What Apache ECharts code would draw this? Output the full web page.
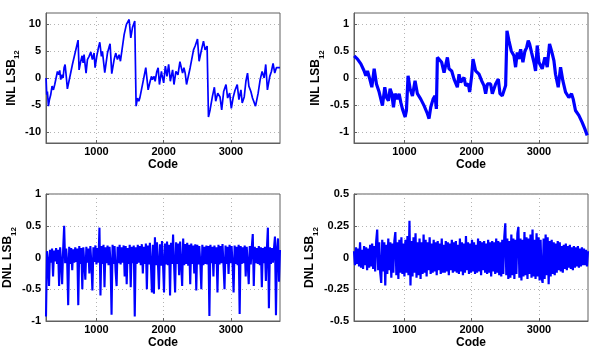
<!DOCTYPE html>
<html>
<head>
<meta charset="utf-8">
<script src="https://cdn.jsdelivr.net/npm/echarts@6/dist/echarts.min.js"></script>
<style>
html, body { margin: 0; padding: 0; background: #fff; }
#chart { width: 610px; height: 350px; }
</style>
</head>
<body>
<div id="chart"></div>
<script>
// tick values
var codeTicks = [1000, 2000, 3000];
var inlATicks = [-10, -5, 0, 5, 10];
var inlBTicks = [-1, -0.5, 0, 0.5, 1];

// INL, top left
var inlACodes = [251, 261, 271, 286, 301, 320, 340, 360, 380, 400, 420, 440, 454, 469, 489, 504, 519, 534, 549, 568,
  643, 648, 663, 727, 742, 767, 787, 802, 816, 831, 846, 866, 891, 916, 940, 965, 980, 1005, 1030, 1050,
  1074, 1089, 1124, 1164, 1188, 1203, 1228, 1263, 1288, 1312, 1337, 1357, 1412, 1446, 1461, 1486, 1511, 1536, 1570, 1590,
  1610, 1630, 1645, 1709, 1734, 1769, 1799, 1818, 1833, 1858, 1873, 1898, 1918, 1937, 1967, 1975, 2000, 2025, 2049, 2074,
  2099, 2133, 2153, 2182, 2212, 2242, 2261, 2281, 2301, 2320, 2340, 2394, 2444, 2468, 2503, 2527, 2557, 2592, 2616, 2646,
  2666, 2690, 2725, 2754, 2774, 2804, 2838, 2863, 2892, 2927, 2951, 2981, 3006, 3035, 3060, 3094, 3119, 3149, 3168, 3198,
  3223, 3247, 3267, 3297, 3321, 3341, 3366, 3405, 3435, 3464, 3494, 3518, 3543, 3578, 3602, 3627, 3652, 3676, 3701, 3730];
var inlAValues = [0, -3.1, -2.5, -5.2, -4.0, -3.1, -1.5, -2.2, -1.2, 0, 1.2, 0.6, 1.4, -0.3, 0.6, 0, 1.9, 2.5, 0.6, -2.0,
  2.5, 2.8, 2.3, 7.0, 1.5, 3.1, 4.1, 2.8, 4.3, 2.5, 0.9, 3.4, 4.0, 4.8, 3.4, 4.6, 1.9, 4.0, 5.6, 6.6,
  4.0, 4.9, 1.0, 4.6, 5.7, 6.3, 0.8, 3.4, 4.6, 3.4, 4.3, 3.1, 8.0, 9.9, 10.2, 10.8, 7.4, 9.3, 10.5, -5.2,
  -3.7, -4.3, -3.7, 0.3, 1.9, -2.2, -0.6, 0.3, -0.3, 0.3, -0.6, 1.2, 1.9, -1.2, 1.2, 0.6, -0.9, 2.2, 0.3, 2.5,
  -0.6, 1.5, -1.2, 1.2, 0.6, 3.0, 2.8, 0.9, 1.9, 0.9, -1.2, 1.9, 5.2, 5.9, 7.2, 3.1, 4.9, 6.8, 5.2, 5.9,
  -7.2, -5.9, -3.4, -1.7, -4.3, -2.8, -3.5, -5.9, -2.5, -1.2, -3.7, -2.8, -5.6, -3.5, -2.3, -1.2, -4.0, -2.2, -4.6, -3.5,
  -0.6, 0.9, -1.5, -2.5, -3.7, -3.4, -5.2, -2.8, -0.3, 1.2, 0, 2.5, -2.2, 0.3, 1.2, 2.7, 0.9, 1.9, 1.9, 1.9];

// INL, top right
var inlBCodes = [253, 302, 327, 352, 401, 426, 451, 485, 515, 550, 584, 624, 673, 708, 733, 762, 787, 812, 837, 861,
  896, 921, 946, 970, 1010, 1030, 1054, 1084, 1119, 1158, 1193, 1243, 1292, 1342, 1366, 1391, 1426, 1455, 1475, 1490,
  1515, 1554, 1589, 1639, 1663, 1703, 1738, 1787, 1812, 1837, 1886, 1911, 1950, 1970, 2000, 2020, 2059, 2109, 2148, 2183,
  2208, 2233, 2282, 2307, 2356, 2396, 2421, 2455, 2480, 2505, 2525, 2554, 2589, 2629, 2653, 2678, 2703, 2728, 2762, 2792,
  2817, 2841, 2861, 2891, 2926, 2950, 2975, 3000, 3049, 3089, 3124, 3158, 3188, 3223, 3247, 3287, 3322, 3356, 3396, 3445,
  3485, 3510, 3544, 3594, 3643, 3683, 3718];
var inlBValues = [0.41, 0.35, 0.38, 0.26, 0.13, 0.04, 0.13, -0.02, -0.17, 0.17, -0.11, -0.26, -0.51, -0.17, -0.36, -0.42, -0.2, -0.29, -0.54, -0.29,
  -0.39, -0.29, -0.45, -0.57, -0.72, -0.6, 0.04, -0.2, -0.33, -0.05, -0.29, -0.39, -0.51, -0.66, -0.75, -0.54, -0.39, -0.33, -0.57, 0.38,
  0.41, 0.29, 0.1, 0.38, 0.17, 0.13, -0.02, -0.17, 0.07, -0.08, 0.01, -0.14, -0.11, -0.26, 0.04, 0.35, 0.13, 0.07, -0.05, -0.14,
  -0.29, -0.11, -0.11, -0.29, -0.11, -0.02, -0.29, -0.33, -0.36, -0.14, 0.87, 0.69, 0.5, 0.41, 0.2, 0.47, 0.35, 0.53, 0.29, 0.5,
  0.56, 0.69, 0.63, 0.47, 0.29, 0.13, 0.6, 0.29, 0.17, 0.38, 0.2, 0.63, 0.5, 0.32, 0.07, -0.17, 0.2, -0.05, -0.26, -0.36,
  -0.29, -0.39, -0.6, -0.69, -0.82, -0.94, -1.06];

// DNL, one value every dnlStep codes from dnlStart
var dnlStart = 250;
var dnlStep = 15;
var dnlAValues = [-0.93, 0.1, -0.05, -0.45, 0.12, -0.08, 0.14, -0.3, 0.11, -0.06,
  0.15, -0.1, 0.12, -0.45, 0.16, -0.07, -0.42, 0.13, 0.5, -0.09,
  0.14, -0.06, -0.75, 0.17, -0.1, 0.15, -0.2, 0.13, -0.08, 0.16,
  -0.07, 0.14, -0.75, 0.18, -0.1, 0.15, -0.5, 0.16, -0.09, -0.35,
  0.17, -0.08, 0.14, -0.25, 0.18, -0.1, -0.52, 0.16, -0.07, 0.19,
  -0.11, 0.15, -0.08, 0.47, -0.6, 0.18, -0.1, 0.2, -0.47, 0.16,
  -0.09, 0.19, -0.12, 0.17, -0.08, -0.9, 0.2, -0.1, 0.18, -0.22,
  -0.45, 0.17, -0.09, 0.2, -0.11, 0.16, -0.08, 0.19, -0.3, 0.18,
  -0.42, 0.15, -0.1, 0.2, -0.47, 0.17, -0.09, 0.19, -0.93, 0.16,
  -0.1, 0.2, -0.08, 0.18, -0.12, 0.21, -0.25, 0.17, -0.1, 0.22,
  -0.5, 0.19, -0.11, 0.23, -0.09, -0.55, 0.2, -0.57, 0.32, -0.12,
  0.24, -0.1, -0.5, 0.21, -0.13, 0.26, -0.09, -0.55, 0.22, -0.11,
  0.25, -0.12, 0.2, -0.6, 0.23, -0.1, 0.36, -0.13, -0.55, 0.24,
  -0.1, 0.22, -0.28, 0.25, -0.11, -0.45, 0.3, -0.12, 0.21, -0.1,
  0.23, -0.13, 0.2, -0.42, 0.22, -0.1, 0.19, -0.25, 0.21, -0.52,
  0.2, -0.11, 0.18, -0.09, -0.5, 0.2, -0.12, 0.17, -0.1, 0.19,
  -0.11, 0.18, -0.92, 0.2, -0.09, 0.17, -0.3, 0.19, -0.1, 0.16,
  -0.55, 0.2, -0.11, 0.18, -0.09, 0.21, -0.12, -0.5, 0.19, -0.1,
  0.17, -0.26, 0.2, -0.09, 0.18, -0.11, -0.55, 0.19, -0.1, 0.17,
  -0.12, 0.2, -0.89, 0.18, -0.1, 0.16, -0.09, 0.19, -0.3, 0.17,
  -0.1, -0.42, 0.18, -0.11, 0.16, 0.37, -0.45, 0.17, -0.09, 0.15,
  -0.1, 0.18, -0.12, 0.16, -0.47, 0.15, -0.09, 0.17, -0.37, 0.14,
  0.47, -0.8, 0.16, -0.1, 0.15, -0.08, 0.14, 0.33, -0.91, 0.13,
  0.3, -0.38, 0.12];
var dnlBValues = [0.05, -0.06, 0.08, -0.05, 0.07, -0.07, 0.12, -0.08, 0.06, -0.09,
  0.09, -0.06, 0.08, -0.1, 0.07, -0.08, 0.1, -0.07, 0.11, -0.09,
  0.09, -0.11, 0.13, 0.22, -0.1, 0.12, -0.12, -0.2, 0.14, -0.11,
  0.12, -0.22, 0.1, -0.13, 0.15, -0.1, 0.12, -0.16, 0.11, -0.12,
  0.13, 0.2, -0.14, 0.12, -0.17, 0.14, -0.12, 0.16, -0.13, 0.11,
  -0.15, 0.14, -0.12, 0.17, -0.14, 0.29, -0.22, 0.13, -0.15, 0.16,
  -0.12, 0.19, -0.16, 0.12, -0.14, 0.15, -0.17, 0.12, -0.13, 0.18,
  -0.12, 0.14, -0.15, 0.12, -0.1, 0.16, -0.13, 0.11, -0.12, 0.14,
  -0.11, 0.12, -0.14, 0.13, -0.1, 0.11, -0.13, 0.15, -0.12, 0.1,
  -0.12, 0.13, -0.11, 0.12, -0.14, 0.11, -0.1, 0.14, -0.12, 0.12,
  -0.11, 0.13, -0.12, 0.1, -0.13, 0.15, -0.11, 0.12, -0.14, 0.11,
  -0.12, 0.17, -0.1, 0.12, -0.13, 0.11, -0.12, 0.14, -0.11, 0.12,
  -0.13, 0.1, -0.12, 0.15, -0.11, 0.13, -0.14, 0.12, -0.1, 0.13,
  -0.12, 0.11, -0.13, 0.14, -0.12, 0.12, -0.15, 0.13, -0.11, 0.12,
  -0.13, 0.15, -0.12, 0.13, -0.14, 0.12, -0.15, 0.14, -0.13, 0.16,
  0.27, -0.14, 0.15, -0.17, 0.13, -0.16, 0.18, -0.14, 0.15, -0.17,
  0.14, -0.13, 0.19, 0.24, -0.16, 0.15, -0.18, 0.14, -0.15, 0.2,
  -0.14, 0.16, -0.17, 0.15, -0.13, 0.18, -0.16, 0.22, -0.15, 0.14,
  -0.17, 0.19, -0.15, 0.16, -0.18, 0.14, -0.16, -0.2, 0.15, -0.17,
  0.18, -0.14, 0.16, -0.21, 0.13, -0.15, 0.14, -0.13, 0.12, -0.14,
  0.11, -0.12, 0.13, -0.1, 0.12, -0.11, 0.09, -0.12, 0.1, -0.09,
  0.11, -0.1, 0.09, -0.08, 0.1, -0.09, 0.08, -0.1, 0.09, -0.08,
  0.08, -0.07, 0.09, -0.08, 0.07, -0.07, 0.08, -0.06, 0.07, -0.06,
  0.06, -0.07, 0.05];

var FONT = 'Liberation Sans';
var GRIDLINE = { color: '#b4b4b4', type: [1, 3], width: 1 };

function pairs(xs, ys) {
  return ys.map(function (v, i) { return [xs[i], v]; });
}
function dnlPairs(ys) {
  return ys.map(function (v, i) { return [dnlStart + i * dnlStep, v]; });
}
function plain(v) { return String(v); }

function xAxisFor(gi) {
  return {
    type: 'value', gridIndex: gi, min: 250, max: 3730,
    name: 'Code', nameLocation: 'middle', nameGap: 16,
    nameTextStyle: { fontFamily: FONT, fontWeight: 'bold', fontSize: 12, color: '#000' },
    axisLine: { onZero: false, lineStyle: { color: '#606060' } },
    axisTick: { inside: true, length: 3, customValues: codeTicks, lineStyle: { color: '#606060' } },
    axisLabel: { customValues: codeTicks, formatter: plain, margin: 3, fontFamily: FONT, fontWeight: 'bold', fontSize: 11, color: '#000' },
    splitLine: { show: true, lineStyle: GRIDLINE }
  };
}
function yAxisFor(gi, label, lo, hi, ticks, gap) {
  var ax = {
    type: 'value', gridIndex: gi, min: lo, max: hi,
    name: '{a|' + label + ' LSB}{b|12}', nameLocation: 'middle', nameRotate: 90, nameGap: gap,
    nameTextStyle: {
      rich: {
        a: { fontFamily: FONT, fontWeight: 'bold', fontSize: 12, color: '#000', lineHeight: 16 },
        b: { fontFamily: FONT, fontWeight: 'bold', fontSize: 8, color: '#000', verticalAlign: 'bottom', lineHeight: 20 }
      }
    },
    axisLine: { show: true, onZero: false, lineStyle: { color: '#606060' } },
    axisTick: { show: true, inside: true, length: 3, lineStyle: { color: '#606060' } },
    axisLabel: { formatter: plain, margin: 5, fontFamily: FONT, fontWeight: 'bold', fontSize: 11, color: '#000' },
    splitLine: { show: true, lineStyle: GRIDLINE }
  };
  if (ticks) {
    ax.axisTick.customValues = ticks;
    ax.axisLabel.customValues = ticks;
  } else {
    ax.interval = (hi - lo) / 4;
  }
  return ax;
}
function lineSeries(gi, data, width) {
  return {
    type: 'line', xAxisIndex: gi, yAxisIndex: gi, data: data,
    symbol: 'none', animation: false,
    lineStyle: { color: '#0000ff', width: width }
  };
}

var chart = echarts.init(document.getElementById('chart'));
chart.setOption({
  backgroundColor: '#fff',
  grid: [
    { left: 46, top: 13, width: 234, height: 130, show: true, borderColor: '#606060', borderWidth: 1 },
    { left: 354, top: 13, width: 234, height: 130, show: true, borderColor: '#606060', borderWidth: 1 },
    { left: 46, top: 194, width: 234, height: 128, show: true, borderColor: '#606060', borderWidth: 1 },
    { left: 354, top: 194, width: 234, height: 128, show: true, borderColor: '#606060', borderWidth: 1 }
  ],
  xAxis: [xAxisFor(0), xAxisFor(1), xAxisFor(2), xAxisFor(3)],
  yAxis: [
    yAxisFor(0, 'INL', -12, 12, inlATicks, 23),
    yAxisFor(1, 'INL', -1.2, 1.2, inlBTicks, 26),
    yAxisFor(2, 'DNL', -1, 1, null, 25),
    yAxisFor(3, 'DNL', -0.5, 0.5, null, 32)
  ],
  series: [
    lineSeries(0, pairs(inlACodes, inlAValues), 1.7),
    lineSeries(1, pairs(inlBCodes, inlBValues), 3.2),
    lineSeries(2, dnlPairs(dnlAValues), 2.1),
    lineSeries(3, dnlPairs(dnlBValues), 2.2)
  ]
});
</script>
</body>
</html>
